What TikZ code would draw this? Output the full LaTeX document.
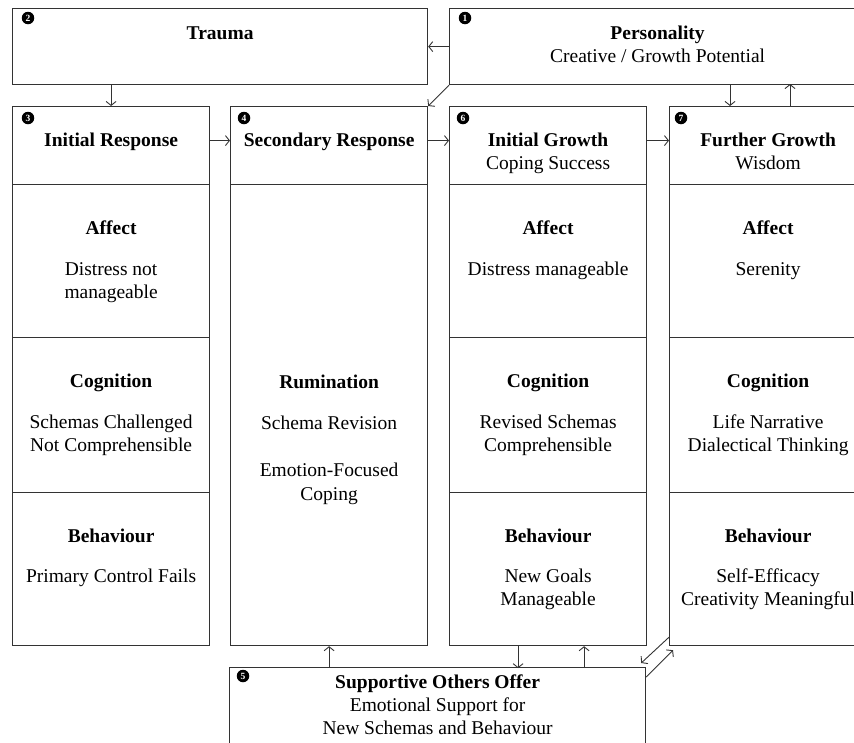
\documentclass[tikz,border=0pt]{standalone}
\usepackage{fontspec}
\setmainfont{Liberation Serif}
\usetikzlibrary{arrows.meta,calc,positioning}

\begin{document}
\begin{tikzpicture}[x=1pt,y=-1pt,
  box/.style={draw=black!80, line width=1.2pt, anchor=north west, inner sep=0pt, minimum width=197pt},
  ttl/.style={font=\bfseries\fontsize{19.5}{23.5}\selectfont, anchor=base, inner sep=0pt},
  txt/.style={font=\fontsize{19.5}{23.5}\selectfont, align=center, anchor=base, inner sep=0pt},
  num/.style={circle, fill=black, text=white, inner sep=0pt, minimum size=12.5pt, font=\bfseries\fontsize{9.5}{9.5}\selectfont},
  arr/.style={draw=black!80, line width=0.9pt, -{Straight Barb[length=4pt,width=10pt]}}]

\clip (0,0) rectangle (854,742);

% top row
\node[box, minimum width=415pt, minimum height=76pt] (trauma) at (12,8) {};
\node[box, minimum width=416pt, minimum height=76pt] (pers) at (449,8) {};
\node[ttl] at ($(trauma.north)+(0,31)$) {Trauma};
\node[ttl] at ($(pers.north)+(0,31)$) {Personality};
\node[txt] at ($(pers.north)+(0,54)$) {Creative / Growth Potential};
\node[num] (n1) at ($(pers.north west)+(16,10)$) {1};
\node[num] (n2) at ($(trauma.north west)+(16,10)$) {2};

% initial response
\node[box, minimum height=78pt] (ir) at (12,106) {};
\node[box, minimum height=153pt] (ir-aff) at (12,184) {};
\node[box, minimum height=155pt] (ir-cog) at (12,337) {};
\node[box, minimum height=153pt] (ir-beh) at (12,492) {};
\node[num] (n3) at ($(ir.north west)+(16,12)$) {3};
\node[ttl] at ($(ir.north)+(0,40)$) {Initial Response};
\node[ttl] at ($(ir-aff.north)+(0,50)$) {Affect};
\node[txt] at ($(ir-aff.north)+(0,114.5)$) {Distress not\\manageable};
\node[ttl] at ($(ir-cog.north)+(0,50)$) {Cognition};
\node[txt] at ($(ir-cog.north)+(0,114.5)$) {Schemas Challenged\\Not Comprehensible};
\node[ttl] at ($(ir-beh.north)+(0,50)$) {Behaviour};
\node[txt] at ($(ir-beh.north)+(0,90)$) {Primary Control Fails};

% secondary response
\node[box, minimum height=78pt] (sr) at (230,106) {};
\node[box, minimum height=461pt] (sr-body) at (230,184) {};
\node[num] (n4) at ($(sr.north west)+(14,12)$) {4};
\node[ttl] at ($(sr.north)+(0,40)$) {Secondary Response};
\node[ttl] at ($(sr-body.north)+(0,204)$) {Rumination};
\node[txt] at ($(sr-body.north)+(0,316)$) {Schema Revision\\[24pt]Emotion-Focused\\Coping};

% initial growth
\node[box, minimum height=78pt] (ig) at (449,106) {};
\node[box, minimum height=153pt] (ig-aff) at (449,184) {};
\node[box, minimum height=155pt] (ig-cog) at (449,337) {};
\node[box, minimum height=153pt] (ig-beh) at (449,492) {};
\node[num] (n6) at ($(ig.north west)+(14,12)$) {6};
\node[ttl] at ($(ig.north)+(0,40)$) {Initial Growth};
\node[txt] at ($(ig.north)+(0,63)$) {Coping Success};
\node[ttl] at ($(ig-aff.north)+(0,50)$) {Affect};
\node[txt] at ($(ig-aff.north)+(0,91)$) {Distress manageable};
\node[ttl] at ($(ig-cog.north)+(0,50)$) {Cognition};
\node[txt] at ($(ig-cog.north)+(0,114.5)$) {Revised Schemas\\Comprehensible};
\node[ttl] at ($(ig-beh.north)+(0,50)$) {Behaviour};
\node[txt] at ($(ig-beh.north)+(0,113.5)$) {New Goals\\Manageable};

% further growth
\node[box, minimum height=78pt] (fg) at (669,106) {};
\node[box, minimum height=153pt] (fg-aff) at (669,184) {};
\node[box, minimum height=155pt] (fg-cog) at (669,337) {};
\node[box, minimum height=153pt] (fg-beh) at (669,492) {};
\node[num] (n7) at ($(fg.north west)+(12,12)$) {7};
\node[ttl] at ($(fg.north)+(0,40)$) {Further Growth};
\node[txt] at ($(fg.north)+(0,63)$) {Wisdom};
\node[ttl] at ($(fg-aff.north)+(0,50)$) {Affect};
\node[txt] at ($(fg-aff.north)+(0,91)$) {Serenity};
\node[ttl] at ($(fg-cog.north)+(0,50)$) {Cognition};
\node[txt] at ($(fg-cog.north)+(0,114.5)$) {Life Narrative\\Dialectical Thinking};
\node[ttl] at ($(fg-beh.north)+(0,50)$) {Behaviour};
\node[txt] at ($(fg-beh.north)+(0,113.5)$) {Self-Efficacy\\Creativity Meaningful};

% supportive others
\node[box, minimum width=416pt, minimum height=100pt] (sup) at (229,667) {};
\node[num] (n5) at ($(sup.north west)+(14,9)$) {5};
\node[ttl] at ($(sup.north)+(0,21)$) {Supportive Others Offer};
\node[txt] at ($(sup.north)+(0,67.5)$) {Emotional Support for\\New Schemas and Behaviour};

% connectors
\draw[arr] (pers) -- (trauma);
\draw[arr] (trauma.south -| ir.north) -- (ir.north);
\draw[arr] (pers.south west) -- (sr.north east);
\draw[arr] ([yshift=5pt]ir.east) -- ([yshift=5pt]sr.west);
\draw[arr] ([yshift=5pt]sr.east) -- ([yshift=5pt]ig.west);
\draw[arr] ([yshift=5pt]ig.east) -- ([yshift=5pt]fg.west);
\draw[arr] ([xshift=61pt,yshift=22pt]fg.north west) -- ([xshift=61pt]fg.north west);
\draw[arr] ([xshift=121pt]fg.north west) -- ([xshift=121pt,yshift=22pt]fg.north west);
\draw[arr] (sup.north -| sr-body.south) -- (sr-body.south);
\draw[arr] ([xshift=-30pt]ig-beh.south) -- ([xshift=-30pt,yshift=-22pt]ig-beh.south);
\draw[arr] ([xshift=36pt,yshift=-22pt]ig-beh.south) -- ([xshift=36pt]ig-beh.south);
\draw[arr] ([yshift=9pt]fg-beh.south west) -- ([xshift=-5pt,yshift=4pt]sup.north east);
\draw[arr] ([yshift=-10pt]sup.north east) -- ([xshift=4pt,yshift=-4pt]fg-beh.south west);
\end{tikzpicture}
\end{document}
